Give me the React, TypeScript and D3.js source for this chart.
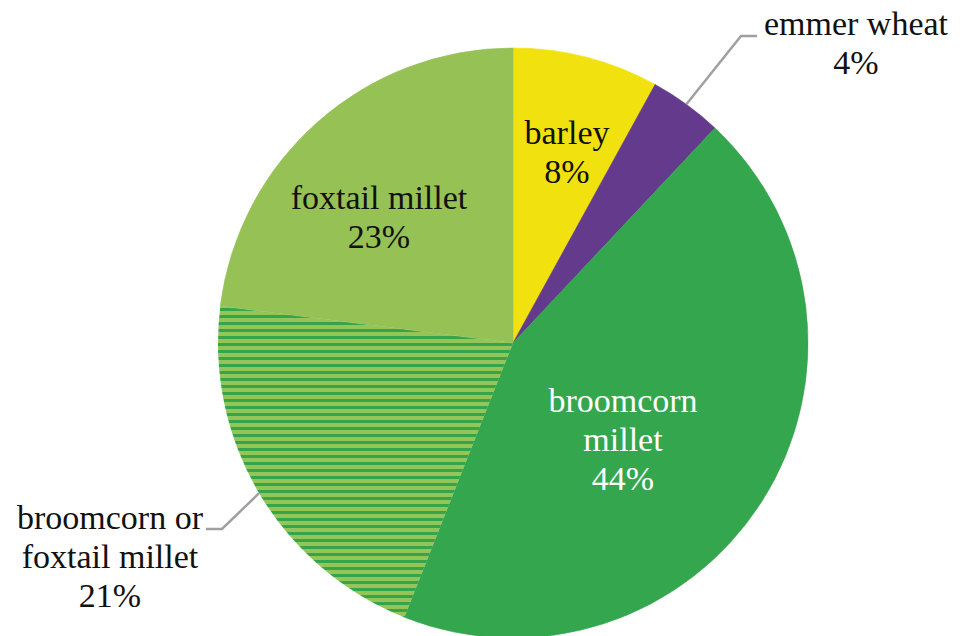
import React from 'react';
import * as d3 from 'd3';

// Crop shares, clockwise from 12 o'clock
const crops = ['barley', 'emmer wheat', 'broomcorn millet', 'broomcorn or foxtail millet', 'foxtail millet'];
const shares = [8, 4, 44, 21, 23];
const colors = ['#f1e20f', '#643a8d', '#34a64d', 'url(#stripes)', '#96c155'];
const labelLines = [
  ['barley', '8%'],
  ['emmer wheat', '4%'],
  ['broomcorn', 'millet', '44%'],
  ['broomcorn or', 'foxtail millet', '21%'],
  ['foxtail millet', '23%'],
];

const W = 963;
const H = 636;
const cx = 513;
const cy = 343;
const r = 295;
const fontSize = 34;
const lineH = 39;
const FONT = "'Times New Roman', 'Liberation Serif', Tinos";

const pie = d3.pie<number>().sort(null).value(d => d);
const arcs = pie(shares);
const arc = d3.arc<d3.PieArcDatum<number>>().innerRadius(0).outerRadius(r);

// polar spot for a label: angle in degrees clockwise from 12 o'clock, radius factor
const polar = (deg: number, f: number): [number, number] => {
  const a = (deg * Math.PI) / 180;
  return [cx + Math.sin(a) * r * f, cy - Math.cos(a) * r * f];
};

const edgePoint = (d: d3.PieArcDatum<number>): [number, number] => {
  const a = (d.startAngle + d.endAngle) / 2;
  return [cx + Math.sin(a) * r, cy - Math.cos(a) * r];
};

// label centres: inside labels in polar terms, outside ones beside the pie
const labelPos: [number, number][] = [
  polar(16.6, 0.64),
  [856, 53],
  polar(134, 0.52),
  [110, 567],
  polar(310.9, 0.6),
];
const labelFill = ['#111111', '#111111', '#ffffff', '#111111', '#111111'];

// leader lines: elbow + end for outside labels
const leaders: { i: number; elbow: [number, number]; end: [number, number] }[] = [
  { i: 1, elbow: [741, 36], end: [757, 36] },
  { i: 3, elbow: [222, 529], end: [206, 529] },
];

const textItems = labelPos.flatMap(([x, y], i) => {
  const lines = labelLines[i];
  const y0 = y - ((lines.length - 1) * lineH) / 2 + 1;
  return lines.map((s, k) => ({
    key: `${crops[i]}-${k}`,
    text: s,
    x: Math.round(x),
    y: Math.round(y0 + k * lineH),
    fill: labelFill[i],
  }));
});

const App: React.FC = () => (
  <svg width={W} height={H} style={{ position: 'absolute', left: 0, top: 0 }}>
    <defs>
      <pattern id="stripes" patternUnits="userSpaceOnUse" width={20} height={7}>
        <rect width={20} height={7} fill="#93c559" />
        <rect width={20} height={3} fill="#35a54c" />
      </pattern>
    </defs>
    <g transform={`translate(${cx},${cy})`}>
      {arcs.map((d, i) => (
        <path
          key={crops[i]}
          d={arc(d) || ''}
          fill={colors[i]}
          stroke={i === 3 ? 'none' : colors[i]}
          strokeWidth={0.6}
        />
      ))}
    </g>
    {leaders.map(({ i, elbow, end }) => {
      const [sx, sy] = edgePoint(arcs[i]);
      return (
        <polyline
          key={crops[i]}
          points={`${sx},${sy} ${elbow[0]},${elbow[1]} ${end[0]},${end[1]}`}
          fill="none"
          stroke="#a0a0a0"
          strokeWidth={2.5}
        />
      );
    })}
    {textItems.map(t => (
      <text
        key={t.key}
        x={t.x}
        y={t.y}
        fontSize={fontSize}
        fontFamily={FONT}
        textAnchor="middle"
        fill={t.fill}
        style={{ fontFamily: FONT }}
      >
        {t.text}
      </text>
    ))}
  </svg>
);

export default App;
